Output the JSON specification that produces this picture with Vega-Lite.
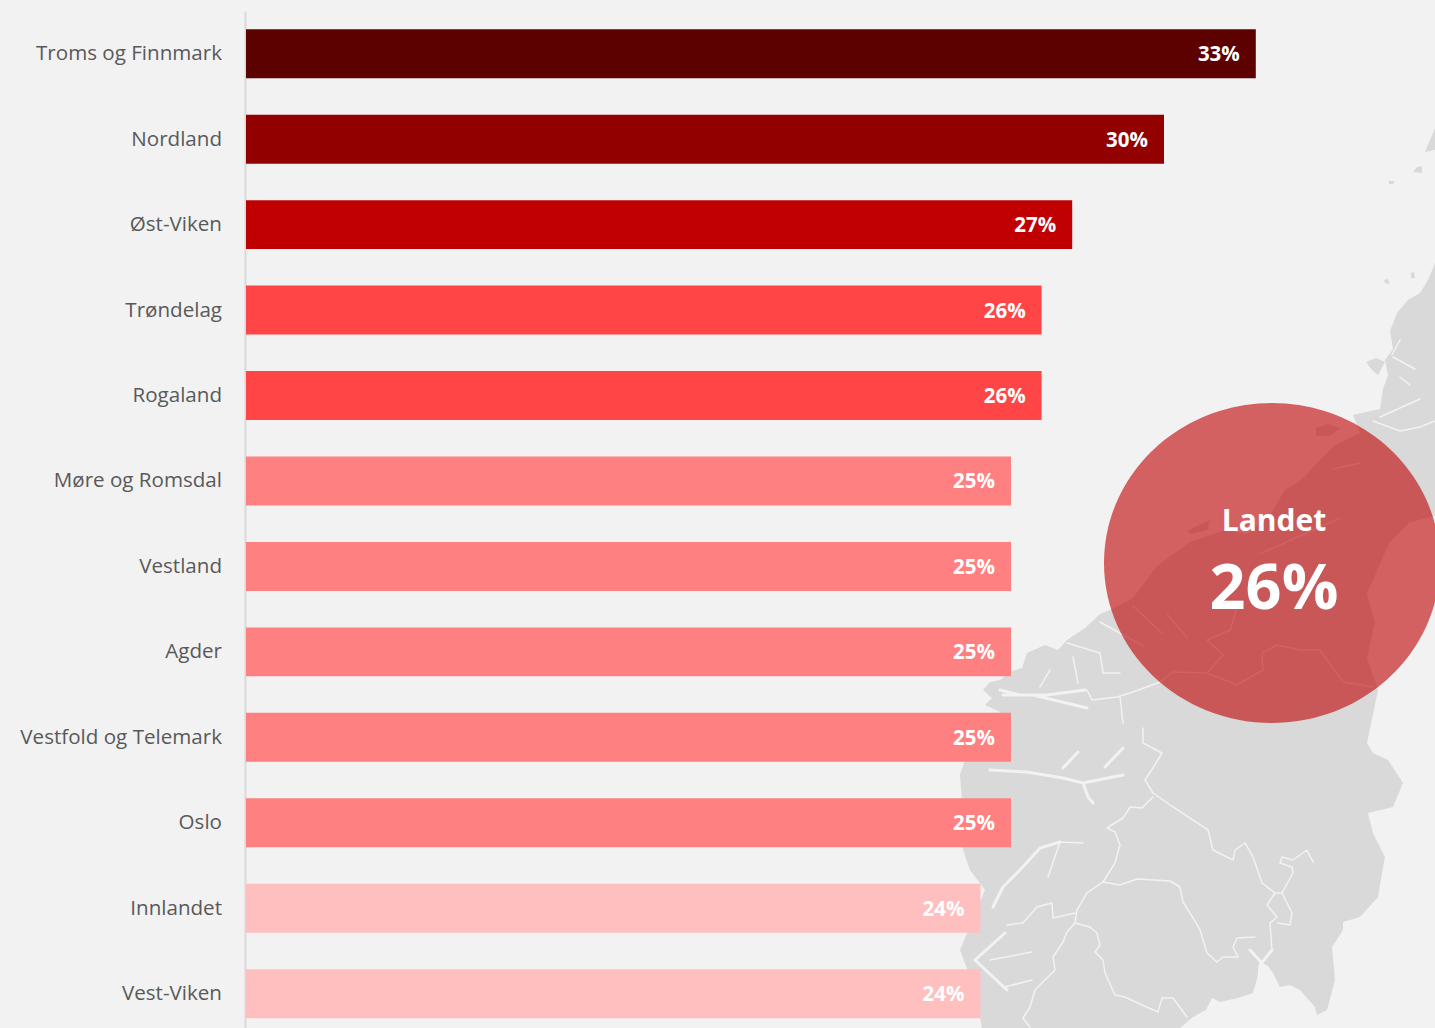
{
"$schema":"https://vega.github.io/schema/vega-lite/v6.json",
"width":1189,"height":1025.4,
"autosize":{"type":"none"},
"padding":{"left":246,"top":11,"right":0,"bottom":0},
"background":"#f2f2f2",
"config":{"view":{"stroke":null},"font":"Open Sans"},
"projection":{"type":"identity","scale":1,"translate":[-246,-11]},
"datasets":{
"regions":[
{"region":"Troms og Finnmark","pct":33,"label":"33%"},{"region":"Nordland","pct":30,"label":"30%"},{"region":"Øst-Viken","pct":27,"label":"27%"},{"region":"Trøndelag","pct":26,"label":"26%"},{"region":"Rogaland","pct":26,"label":"26%"},{"region":"Møre og Romsdal","pct":25,"label":"25%"},{"region":"Vestland","pct":25,"label":"25%"},{"region":"Agder","pct":25,"label":"25%"},{"region":"Vestfold og Telemark","pct":25,"label":"25%"},{"region":"Oslo","pct":25,"label":"25%"},{"region":"Innlandet","pct":24,"label":"24%"},{"region":"Vest-Viken","pct":24,"label":"24%"}],
"land":[
{"type":"Feature","properties":{"name":"Fastland"},"geometry":{"type":"Polygon","coordinates":[[[1435,263],[1428,280],[1420,293],[1408,300],[1397,313],[1390,331],[1393,349],[1385,360],[1388,375],[1383,389],[1380,409],[1353,415],[1360,433],[1335,445],[1300,481],[1285,490],[1270,515],[1247,534],[1225,530],[1190,542],[1157,566],[1133,598],[1110,610],[1100,614],[1085,628],[1067,640],[1058,650],[1045,645],[1027,653],[1022,668],[1010,672],[1000,680],[990,682],[983,690],[992,698],[985,705],[1000,712],[975,745],[965,760],[960,775],[962,800],[963,850],[970,870],[985,890],[960,950],[975,990],[982,1028],[1180,1028],[1193,1017],[1206,1010],[1212,998],[1220,1002],[1238,998],[1253,993],[1258,975],[1262,963],[1268,966],[1273,973],[1280,987],[1290,985],[1300,990],[1315,1007],[1317,1015],[1327,1010],[1335,980],[1332,947],[1343,930],[1343,922],[1360,917],[1378,897],[1382,873],[1385,857],[1373,833],[1368,813],[1393,807],[1403,783],[1388,760],[1373,753],[1367,743],[1378,690],[1367,658],[1375,622],[1367,594],[1377,570],[1390,542],[1410,522],[1435,516],[1435,263]]]}},
{"type":"Feature","properties":{"name":"Nord"},"geometry":{"type":"Polygon","coordinates":[[[1435,128],[1425,152],[1435,150],[1435,128]]]}},
{"type":"Feature","properties":{"name":"Oy1"},"geometry":{"type":"Polygon","coordinates":[[[1417,167],[1422,166],[1422,173],[1413,172],[1417,167]]]}},
{"type":"Feature","properties":{"name":"Oy2"},"geometry":{"type":"Polygon","coordinates":[[[1389,181],[1395,181],[1393,184],[1389,184],[1389,181]]]}},
{"type":"Feature","properties":{"name":"Oy3"},"geometry":{"type":"Polygon","coordinates":[[[1366,362],[1376,358],[1385,362],[1378,375],[1372,370],[1366,362]]]}},
{"type":"Feature","properties":{"name":"Oy5"},"geometry":{"type":"Polygon","coordinates":[[[1316,428],[1328,424],[1340,428],[1330,436],[1316,436],[1316,428]]]}},
{"type":"Feature","properties":{"name":"Oy6"},"geometry":{"type":"Polygon","coordinates":[[[1188,530],[1210,520],[1208,530],[1190,534],[1188,530]]]}},
{"type":"Feature","properties":{"name":"Oy7"},"geometry":{"type":"Polygon","coordinates":[[[1157,566],[1172,560],[1176,568],[1165,572],[1157,566]]]}},
{"type":"Feature","properties":{"name":"Oy8"},"geometry":{"type":"Polygon","coordinates":[[[1411,273],[1414,272],[1415,278],[1411,278],[1411,273]]]}},
{"type":"Feature","properties":{"name":"Oy9"},"geometry":{"type":"Polygon","coordinates":[[[1384,280],[1388,279],[1390,284],[1385,283],[1384,280]]]}}
],
"lines":[
{"type":"Feature","properties":{"w":1.5},"geometry":{"type":"MultiLineString","coordinates":[
[[1087,690],[1092,700],[1117,697],[1133,692],[1160,682],[1173,672],[1207,673],[1237,685],[1263,670],[1262,653],[1277,645],[1300,650],[1320,650],[1343,682],[1373,687]],
[[1207,673],[1223,655],[1207,640],[1230,630],[1237,608]],
[[1120,697],[1123,723]],
[[1143,728],[1143,743],[1162,753],[1153,768],[1145,780],[1153,793]],
[[1153,793],[1173,807],[1208,830],[1213,850],[1233,860],[1235,850],[1245,843],[1253,857],[1262,883],[1275,893]],
[[1275,893],[1282,893],[1293,873],[1292,867],[1280,863],[1282,857],[1293,860],[1307,850],[1313,862]],
[[1282,893],[1292,913],[1290,925],[1278,923]],
[[1275,893],[1267,905],[1277,917],[1270,923],[1272,950]],
[[1255,937],[1237,938],[1233,947],[1238,957],[1223,957],[1217,962],[1207,953],[1200,930],[1193,918],[1183,902],[1180,887],[1170,881],[1137,879],[1120,885],[1103,882],[1115,863],[1120,845],[1115,832],[1107,828],[1123,818],[1130,807],[1142,808],[1153,797]],
[[1103,882],[1087,893],[1077,910],[1075,923],[1090,927],[1097,933],[1100,945],[1095,952],[1103,960],[1105,973],[1115,995],[1125,997],[1142,1005],[1158,1012],[1162,998],[1173,998],[1187,1017]],
[[1075,913],[1053,918],[1052,903],[1037,907],[1023,923],[1007,925]],
[[1075,923],[1067,932],[1063,942],[1053,957],[1055,970],[1035,990],[1030,1007],[1023,1018],[1030,1027]],
[[1060,842],[1048,877]],
[[1060,842],[1083,843]],
[[1005,987],[1032,980]],
[[990,960],[1032,952]],
[[1073,657],[1078,683]],
[[1050,670],[1040,687]],
[[1100,653],[1103,673],[1120,673]],
[[1100,653],[1067,643]],
[[1373,421],[1400,431],[1420,427],[1435,421]],
[[1420,399],[1380,417]],
[[1393,357],[1415,369]],
[[1400,377],[1410,385]],
[[1400,340],[1392,355]],
[[1333,469],[1360,463]],
[[1260,554],[1340,518]],
[[1133,606],[1163,634]],
[[1167,614],[1187,638]],
[[1100,622],[1143,646]]
]}},
{"type":"Feature","properties":{"w":3},"geometry":{"type":"MultiLineString","coordinates":[
[[990,770],[1027,772],[1063,778],[1083,783],[1123,775]],
[[1063,768],[1078,752]],
[[1105,767],[1123,748]],
[[1083,783],[1088,797],[1093,803]],
[[1060,842],[1040,848],[1020,870],[1003,887],[993,907]],
[[1003,695],[1033,695],[1087,708]],
[[1000,690],[1020,695],[1047,695],[1085,690]],
[[1005,933],[975,960],[1007,990]],
[[1272,950],[1260,965],[1258,990]],
[[1250,950],[1262,963]]
]}}
],
"badge":[{"lon":1272,"lat":563}],
"badgeText":[{"lon":1274,"lat":522,"label":"Landet"}],
"badgeValue":[{"lon":1274,"lat":590,"label":"26%"}]
},
"layer":[
{"data":{"name":"land"},"mark":{"type":"geoshape","fill":"#d9d9d9","stroke":null},"encoding":{}},
{"data":{"name":"lines"},"mark":{"type":"geoshape","filled":false,"stroke":"#f2f2f2","strokeCap":"round","strokeJoin":"round"},"encoding":{"strokeWidth":{"field":"properties.w","type":"quantitative","scale":null}}},
{"data":{"name":"regions"},"mark":{"type":"bar","clip":false},
 "encoding":{
  "y":{"field":"region","type":"nominal","sort":null,"scale":{"paddingInner":0.427,"paddingOuter":0.2135},
   "axis":{"title":null,"offset":1,"domainColor":"#d9d9d9","domainWidth":2,"ticks":false,"labelPadding":23.5,"labelOffset":0.5,"labelFont":"Open Sans","labelFontSize":20.6,"labelColor":"#595959","labelLimit":300,"grid":false}},
  "x":{"field":"pct","type":"quantitative","scale":{"domain":[0,38.856],"nice":false},"axis":null},
  "color":{"field":"pct","type":"ordinal","legend":null,"scale":{"domain":[33,30,27,26,25,24],"range":["#5c0000","#920000","#c00000","#ff4545","#ff8080","#ffbfbf"]}}
 }},
{"data":{"name":"regions"},"mark":{"type":"text","align":"right","baseline":"middle","dx":-16,"dy":1.5,"font":"Open Sans","fontWeight":"bold","fontSize":20.5,"color":"white"},
 "encoding":{
  "y":{"field":"region","type":"nominal","sort":null},
  "x":{"field":"pct","type":"quantitative"},
  "text":{"field":"label","type":"nominal"}
 }},
{"data":{"name":"badge"},"mark":{"type":"point","filled":true,"shape":"M -1.05 0 A 1.05 1 0 1 1 1.05 0 A 1.05 1 0 1 1 -1.05 0 Z","size":102400,"color":"#c00000","opacity":0.6,"clip":false},
 "encoding":{"longitude":{"field":"lon","type":"quantitative"},"latitude":{"field":"lat","type":"quantitative"}}},
{"data":{"name":"badgeText"},"mark":{"type":"text","align":"center","baseline":"middle","font":"Open Sans","fontWeight":"bold","fontSize":30,"color":"white"},
 "encoding":{"longitude":{"field":"lon","type":"quantitative"},"latitude":{"field":"lat","type":"quantitative"},"text":{"field":"label","type":"nominal"}}},
{"data":{"name":"badgeValue"},"mark":{"type":"text","align":"center","baseline":"middle","font":"Open Sans","fontWeight":"bold","fontSize":63,"color":"white"},
 "encoding":{"longitude":{"field":"lon","type":"quantitative"},"latitude":{"field":"lat","type":"quantitative"},"text":{"field":"label","type":"nominal"}}}
]
}
